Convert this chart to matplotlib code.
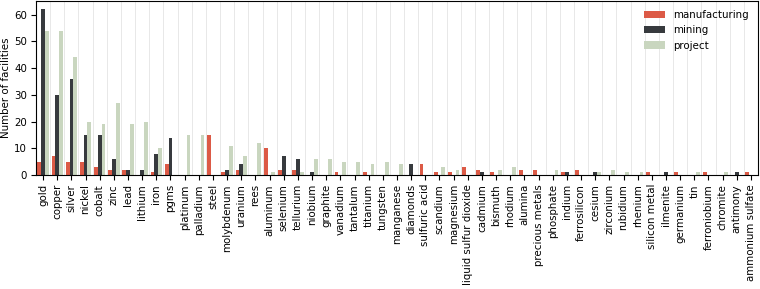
import numpy as np
import matplotlib
matplotlib.use("Agg")
import matplotlib.pyplot as plt

# facility counts per commodity
commodities = ["gold", "copper", "silver", "nickel", "cobalt", "zinc", "lead", "lithium", "iron", "pgms",
               "platinum", "palladium", "steel", "molybdenum", "uranium", "rees", "aluminum", "selenium",
               "tellurium", "niobium", "graphite", "vanadium", "tantalum", "titanium", "tungsten", "manganese",
               "diamonds", "sulfuric acid", "scandium", "magnesium", "liquid sulfur dioxide", "cadmium",
               "bismuth", "rhodium", "alumina", "precious metals", "phosphate", "indium", "ferrosilicon",
               "cesium", "zirconium", "rubidium", "rhenium", "silicon metal", "ilmenite", "germanium", "tin",
               "ferroniobium", "chromite", "antimony", "ammonium sulfate"]
manufacturing = [5, 7, 5, 5, 3, 2, 2, 0, 1, 4,
                 0, 0, 15, 1, 2, 0, 10, 2,
                 2, 0, 0, 1, 0, 1, 0, 0,
                 0, 4, 1, 1, 3, 2,
                 1, 0, 2, 2, 0, 1, 2,
                 0, 0, 0, 0, 1, 0, 1, 0,
                 1, 0, 0, 1]
mining = [62, 30, 36, 15, 15, 6, 2, 2, 8, 14,
          0, 0, 0, 2, 4, 0, 0, 7,
          6, 1, 0, 0, 0, 0, 0, 0,
          4, 0, 0, 0, 0, 1,
          0, 0, 0, 0, 0, 1, 0,
          1, 0, 0, 0, 0, 1, 0, 0,
          0, 0, 1, 0]
project = [54, 54, 44, 20, 19, 27, 19, 20, 10, 0,
           15, 15, 0, 11, 7, 12, 1, 0,
           1, 6, 6, 5, 5, 4, 5, 4,
           0, 0, 3, 2, 0, 0,
           2, 3, 0, 0, 2, 0, 0,
           1, 2, 1, 1, 0, 0, 0, 1,
           0, 1, 0, 0]

series = {"manufacturing": manufacturing, "mining": mining, "project": project}
colors = {"manufacturing": "#dc5a46", "mining": "#373a3e", "project": "#c9d6bf"}

plt.rcParams["font.size"] = 7.4

fig = plt.figure(figsize=(7.6, 2.89), dpi=100)
ax = fig.add_axes([36 / 760, 1 - 175 / 289, 722 / 760, 174 / 289])

x = np.arange(len(commodities))
w = 0.8 / 3
for i, (name, vals) in enumerate(series.items()):
    ax.bar(x + (i - 1) * w, vals, width=w, color=colors[name], label=name, zorder=2)

ax.set_xticks(x)
ax.set_xticklabels(commodities, rotation=90)
ax.set_xticks(x[:-1] + 0.5, minor=True)
ax.tick_params(axis="x", which="minor", length=0)
ax.tick_params(axis="both", which="major", pad=3)
ax.grid(axis="x", which="minor", color="#e4e4e4", linewidth=0.6, zorder=0)
ax.set_xlim(-0.5, len(commodities) - 0.5)
ax.set_ylim(0, 65.1)
ax.set_ylabel("Number of facilities", labelpad=2)
ax.legend(loc="upper right", frameon=False, fontsize=7.4)

fig.savefig("out.png", dpi=100)
